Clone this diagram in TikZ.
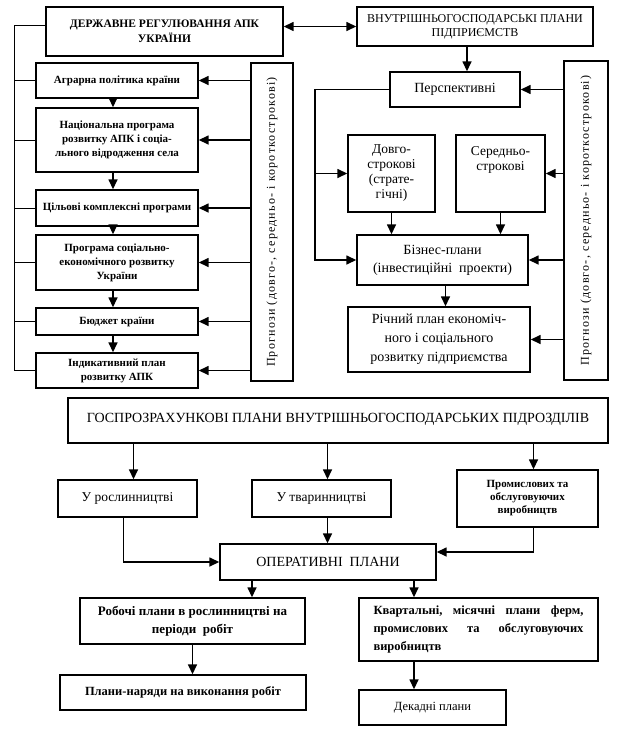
\documentclass[tikz,border=0pt]{standalone}
\usepackage{fontspec}
\setmainfont{Liberation Serif}
\usetikzlibrary{arrows.meta,calc}
\begin{document}
\begin{tikzpicture}[x=1pt,y=-1pt,
  box/.style={draw, line width=1.4pt, align=center, inner sep=1pt},
  arr/.style={line width=1.5pt, -{Triangle[length=10pt,width=9pt]}},
  darr/.style={line width=1.5pt, {Triangle[length=10pt,width=9pt]}-{Triangle[length=10pt,width=9pt]}},
  bus/.style={line width=0.8pt},
  lc/.style={font=\fontsize{11}{14}\selectfont\bfseries},
  rc/.style={font=\fontsize{14}{17}\selectfont},
  bc/.style={font=\fontsize{13.5}{16}\selectfont},
  fc/.style={font=\fontsize{12}{14}\selectfont\addfontfeature{LetterSpace=10}},
  ]
\useasboundingbox (0,0) rectangle (621,734);

% top boxes
\node[box, minimum width=237pt, minimum height=49pt, font=\fontsize{11.5}{15}\selectfont\bfseries] (gov) at (164.5,31.5) {ДЕРЖАВНЕ РЕГУЛЮВАННЯ АПК\\УКРАЇНИ};
\node[box, minimum width=236pt, minimum height=39pt, font=\fontsize{12}{14}\selectfont] (inner) at (475,26.5) {ВНУТРІШНЬОГОСПОДАРСЬКІ ПЛАНИ\\ПІДПРИЄМСТВ};

% left column
\node[box, lc, minimum width=162pt, minimum height=35pt] (agr) at (117,80.5) {Аграрна політика країни};
\node[box, lc, minimum width=162pt, minimum height=64pt] (nat) at (117,140) {Національна програма\\розвитку АПК і соціа-\\льного відродження села};
\node[box, lc, minimum width=162pt, minimum height=36pt] (cil) at (117,208) {Цільові комплексні програми};
\node[box, lc, minimum width=162pt, minimum height=55pt] (prog) at (117,262.5) {Програма соціально-\\економічного розвитку\\України};
\node[box, lc, minimum width=162pt, minimum height=27pt] (bud) at (117,321.5) {Бюджет країни};
\node[box, lc, minimum width=162pt, minimum height=35pt] (ind) at (117,370.5) {Індикативний план\\розвитку АПК};

% forecast boxes
\node[box, minimum width=42pt, minimum height=318pt] (fcL) at (272,222) {};
\node[rotate=90, fc] (fcLt) at (fcL.center) {Прогнози (довго-, середньо- і короткострокові)};
\node[box, minimum width=44pt, minimum height=319pt] (fcR) at (586,220.5) {};
\node[rotate=90, fc] (fcRt) at (fcR.center) {Прогнози (довго-, середньо- і короткострокові)};

% right column
\node[box, rc, minimum width=130pt, minimum height=35pt] (persp) at (455,89.5) {Перспективні};
\node[box, minimum width=87pt, minimum height=77pt, font=\fontsize{13.5}{15}\selectfont] (dovh) at (391.5,173.5) {Довго-\\строкові\\(страте-\\гічні)};
\node[box, minimum width=89pt, minimum height=77pt, font=\fontsize{13.5}{15}\selectfont] (sered) at (500.5,173.5) {Середньо-\\строкові\\~\\~};
\node[box, minimum width=171pt, minimum height=50pt, font=\fontsize{14}{18}\selectfont] (biz) at (442.5,260) {Бізнес-плани\\(інвестиційні\ \ проекти)};
\node[box, minimum width=182pt, minimum height=65pt, font=\fontsize{14}{19}\selectfont] (rich) at (439,339.5) {Річний план економіч-\\ного і соціального\\розвитку підприємства};

% bottom part
\node[box, minimum width=540pt, minimum height=45pt, font=\fontsize{14}{16}\selectfont] (gosp) at (338,420.5) {\raisebox{5pt}{ГОСПРОЗРАХУНКОВІ ПЛАНИ ВНУТРІШНЬОГОСПОДАРСЬКИХ ПІДРОЗДІЛІВ}};
\node[box, bc, minimum width=139pt, minimum height=37pt] (rosl) at (127.5,498.5) {У рослинництві};
\node[box, bc, minimum width=139pt, minimum height=37pt] (tvar) at (321.5,498.5) {У тваринництві};
\node[box, minimum width=141pt, minimum height=57pt, font=\fontsize{11}{13}\selectfont\bfseries] (prom) at (527.5,498.5) {Промислових та\\обслуговуючих\\виробництв};
\node[box, minimum width=216pt, minimum height=36pt, font=\fontsize{14}{16}\selectfont] (oper) at (328,562) {ОПЕРАТИВНІ\ \ ПЛАНИ};
\node[box, minimum width=225pt, minimum height=46pt, font=\fontsize{13}{18}\selectfont\bfseries] (rob) at (192.5,621) {Робочі плани в рослинництві на\\періоди\ \ робіт};
\node[box, minimum width=239pt, minimum height=63pt, font=\fontsize{12.5}{18}\selectfont\bfseries, align=left] (kvar) at (478.5,629.5) {\hbox to 210pt{Квартальні,\hfill місячні\hfill плани\hfill ферм,}\\\hbox to 210pt{промислових\hfill та\hfill обслуговуючих}\\виробництв};
\node[box, minimum width=246pt, minimum height=35pt, font=\fontsize{12.5}{15}\selectfont\bfseries] (nar) at (183,692.5) {Плани-наряди на виконання робіт};
\node[box, minimum width=147pt, minimum height=35pt, font=\fontsize{12.5}{15}\selectfont] (dek) at (432.5,707.5) {Декадні плани};

% coordinates for buses
\coordinate (lb) at (14,25);
\coordinate (rb) at (315,0);
\coordinate (xa) at (252,0);
\coordinate (xb) at (414,0);

% top connectors
\draw[darr] (gov.east |- inner.west) -- (inner.west);
\draw[bus] (gov.west |- lb) -- (lb) -- (lb |- ind.west);
\foreach \n in {agr,nat,cil,prog,bud,ind} {\draw[bus] (lb |- \n.west) -- (\n.west);}
\draw[arr] ([xshift=-4pt]agr.south) -- ([xshift=-4pt]nat.north);
\draw[arr] ([xshift=-4pt]nat.south) -- ([xshift=-4pt]cil.north);
\draw[arr] ([xshift=-4pt]cil.south) -- ([xshift=-4pt]prog.north);
\draw[arr] ([xshift=-4pt]prog.south) -- ([xshift=-4pt]bud.north);
\draw[arr] ([xshift=-4pt]bud.south) -- ([xshift=-4pt]ind.north);
\foreach \n in {agr,nat,cil,prog,bud,ind} {\draw[arr] (fcL.west |- \n.east) -- (\n.east);}

% right side
\draw[arr] ([xshift=-8pt]inner.south) -- ([xshift=-8pt]inner.south |- persp.north);
\foreach \n in {persp,sered,biz,rich} {\draw[arr] (fcR.west |- \n.east) -- (\n.east);}
\draw[arr] (persp.west) -| (rb |- biz.west) -- (biz.west);
\draw[arr] (rb |- dovh.west) -- (dovh.west);
\draw[arr] (dovh.south) -- (dovh.south |- biz.north);
\draw[arr] (sered.south) -- (sered.south |- biz.north);
\draw[arr] ([xshift=3pt]biz.south) -- ([xshift=3pt]biz.south |- rich.north);

% bottom connectors
\draw[arr] ([xshift=6pt]rosl.north |- gosp.south) -- ([xshift=6pt]rosl.north);
\draw[arr] ([xshift=6pt]tvar.north |- gosp.south) -- ([xshift=6pt]tvar.north);
\draw[arr] ([xshift=6pt]prom.north |- gosp.south) -- ([xshift=6pt]prom.north);
\draw[arr] ([xshift=-4pt]rosl.south) |- (oper.west);
\draw[arr] ([xshift=6pt]tvar.south) -- ([xshift=6pt]tvar.south |- oper.north);
\draw[arr] ([xshift=6pt]prom.south) |- ([yshift=10pt]oper.east);
\draw[arr] (oper.south -| xa) -- (rob.north -| xa);
\draw[arr] (oper.south -| xb) -- (kvar.north -| xb);
\draw[arr] (rob.south) -- (rob.south |- nar.north);
\draw[arr] (kvar.south -| xb) -- (dek.north -| xb);
\end{tikzpicture}
\end{document}
